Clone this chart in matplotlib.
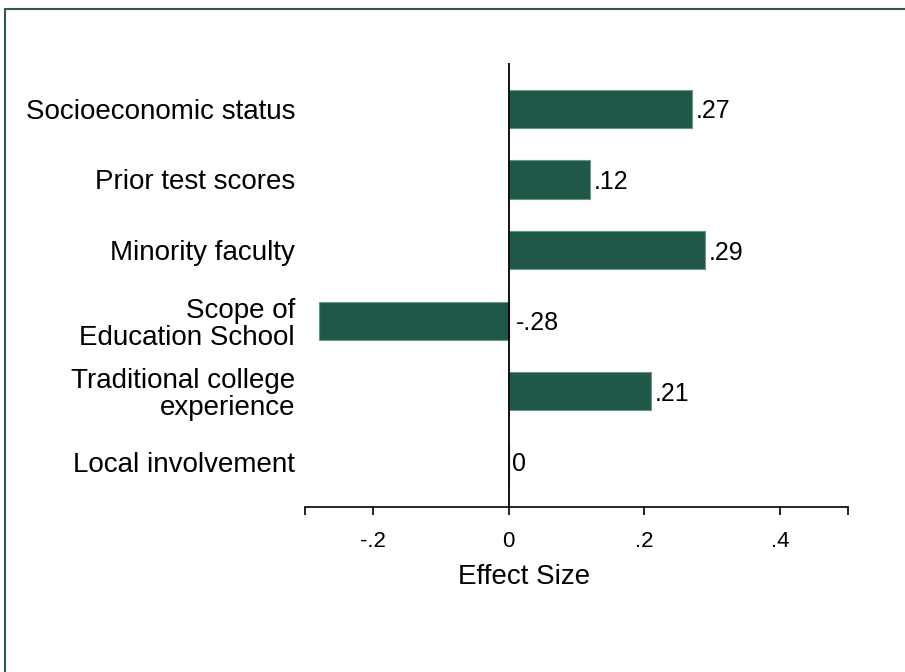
import matplotlib
matplotlib.use("Agg")
import matplotlib.pyplot as plt
from matplotlib.patches import Rectangle
import numpy as np

plt.rcParams['font.family'] = ['Liberation Sans', 'DejaVu Sans']

categories = ["Socioeconomic status", "Prior test scores", "Minority faculty",
              "Scope of\nEducation School", "Traditional college\nexperience",
              "Local involvement"]
values = [0.27, 0.12, 0.29, -0.28, 0.21, 0.0]
value_labels = [".27", ".12", ".29", "-.28", ".21", "0"]
tick_values = [-0.2, 0.0, 0.2, 0.4]
tick_labels = ["-.2", "0", ".2", ".4"]
x_title = "Effect Size"

W, H = 905, 672
fig = plt.figure(figsize=(W / 100, H / 100), dpi=100)
fig.patch.set_facecolor("white")

ax = fig.add_axes([305 / W, 1 - 507 / H, (848 - 305) / W, (507 - 63) / H])
ypos = np.arange(len(categories))
bar_color = "#1e5748"
ax.barh(ypos, values, height=0.54, color=bar_color, edgecolor="#6d9488",
        linewidth=0.8, zorder=2)
ax.axvline(0, color="black", lw=1.3, zorder=3)

for y, v, lab in zip(ypos, values, value_labels):
    off = 2.5 if v >= 0 else 5
    ax.annotate(lab, xy=(max(v, 0), y), xytext=(off, 0), textcoords="offset points",
                va="center_baseline", ha="left", fontsize=18, color="black")

ax.set_xlim(-0.3, 0.5)
ax.set_ylim(len(categories) - 0.36, -0.65)
ax.set_yticks(ypos)
ax.set_yticklabels(categories, fontsize=20, linespacing=1.05, ha="right")
ax.tick_params(axis="y", length=0, pad=7.2)
ax.set_xticks(tick_values)
ax.set_xticklabels(tick_labels, fontsize=16)
ax.set_xticks([-0.3, 0.5], minor=True)
ax.tick_params(axis="x", which="both", length=6, width=1.2, direction="out", pad=11)
for s in ["left", "right", "top"]:
    ax.spines[s].set_visible(False)
ax.spines["bottom"].set_linewidth(1.2)
ax.set_facecolor("white")

fig.text(524 / W, 1 - 577 / H, x_title, fontsize=20, ha="center", va="center")

# outer frame (clipped at right/bottom in the reference)
fig.add_artist(Rectangle((4.5 / W, -0.2), 1.2, 1.2 - 9.5 / H, transform=fig.transFigure,
                         fill=False, edgecolor="#2f5c4b", lw=1.5, clip_on=False))

fig.savefig("out.png", dpi=100, facecolor="white")
